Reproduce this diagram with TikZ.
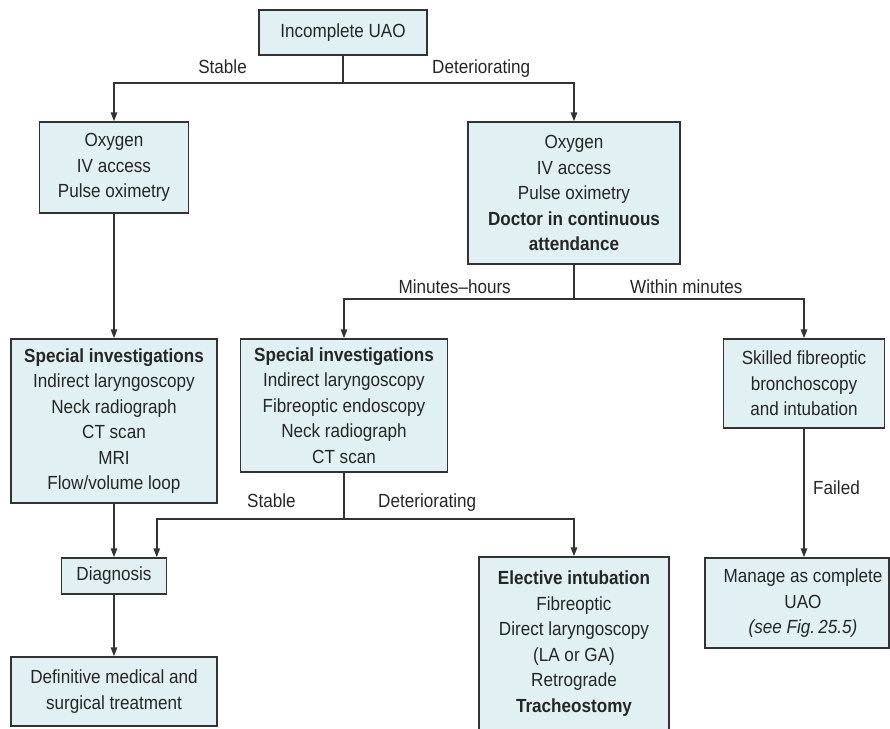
\documentclass[tikz,border=0pt]{standalone}
\usepackage{fontspec}
\setmainfont{Liberation Sans}[FakeStretch=0.9]
\usetikzlibrary{arrows.meta}
\definecolor{boxfill}{HTML}{E0F0F3}
\definecolor{ink}{HTML}{333333}
\begin{document}
\begin{tikzpicture}[x=1pt,y=-1pt,
  every node/.style={font=\fontsize{19}{25.5}\selectfont, text=black!85},
  box/.style={draw=ink, line width=1.5pt, fill=boxfill, align=center, inner sep=0pt},
  line/.style={draw=ink, line width=1.5pt},
  arr/.style={line, -{Triangle[length=9pt,width=6.5pt]}},
  lbl/.style={inner sep=0pt}]
\useasboundingbox (0,0) rectangle (890,728);

% boxes
\node[box, minimum width=168pt, minimum height=45pt] (uao) at (343,32.5) {Incomplete UAO};
\node[box, minimum width=149pt, minimum height=91pt] (oxyL) at (114,167.5)
  {Oxygen\\IV access\\Pulse oximetry};
\node[box, minimum width=212pt, minimum height=142pt] (oxyR) at (574,193)
  {Oxygen\\IV access\\Pulse oximetry\\\textbf{Doctor in continuous}\\\textbf{attendance}};
\node[box, minimum width=206pt, minimum height=164pt] (siL) at (114,421)
  {\textbf{Special investigations}\\Indirect laryngoscopy\\Neck radiograph\\CT scan\\MRI\\Flow/volume loop};
\node[box, minimum width=207pt, minimum height=133pt] (siM) at (344,405.5)
  {\textbf{Special investigations}\\Indirect laryngoscopy\\Fibreoptic endoscopy\\Neck radiograph\\CT scan};
\node[box, minimum width=161pt, minimum height=89pt] (fib) at (804,383.5)
  {Skilled fibreoptic\\bronchoscopy\\and intubation};
\node[box, minimum width=105pt, minimum height=36pt] (diag) at (114,576) {Diagnosis};
\node[box, minimum width=206pt, minimum height=69pt] (def) at (114,691.5)
  {Definitive medical and\\surgical treatment};
\node[box, minimum width=190pt, minimum height=173pt] (elect) at (574,643.5)
  {\textbf{Elective intubation}\\Fibreoptic\\Direct laryngoscopy\\(LA or GA)\\Retrograde\\\textbf{Tracheostomy}};
\node[draw=ink, line width=1.5pt, fill=boxfill, inner sep=0pt,
      minimum width=184pt, minimum height=90pt] (manage) at (797,603)
  {\hspace*{12pt}\begin{tabular}{@{}c@{}}Manage as complete\\UAO\\\textit{(see Fig.\,25.5)}\end{tabular}};

% connectors
\draw[line] (uao.south) -- (uao.south |- 0,83) coordinate (j1);
\draw[arr] (j1) -| (oxyL.north);
\draw[arr] (j1) -| (oxyR.north);
\draw[arr] (oxyL.south) -- (siL.north);
\draw[line] (oxyR.south) -- (oxyR.south |- 0,299) coordinate (j2);
\draw[arr] (j2) -| (siM.north);
\draw[arr] (j2) -| (fib.north);
\draw[arr] (siL.south) -- (siL.south |- diag.north);
\draw[line] (siM.south) -- (siM.south |- 0,519) coordinate (j3);
\draw[arr] (j3) -| ([xshift=-10.5pt]diag.north east);
\draw[arr] (j3) -| (elect.north);
\draw[arr] (diag.south) -- (def.north);
\draw[arr] (fib.south) -- (fib.south |- manage.north);

% branch labels
\node[lbl, anchor=base east] (l1) at (247,73) {Stable};
\node[lbl, anchor=base west] (l2) at (432,73) {Deteriorating};
\node[lbl, anchor=base east] (l3) at (511,293) {Minutes–hours};
\node[lbl, anchor=base west] (l4) at (630,293) {Within minutes};
\node[lbl, anchor=base west] (l5) at (247,507) {Stable};
\node[lbl, anchor=base west] (l6) at (378,507) {Deteriorating};
\node[lbl, anchor=base west] (l7) at (813,494) {Failed};
\end{tikzpicture}
\end{document}
